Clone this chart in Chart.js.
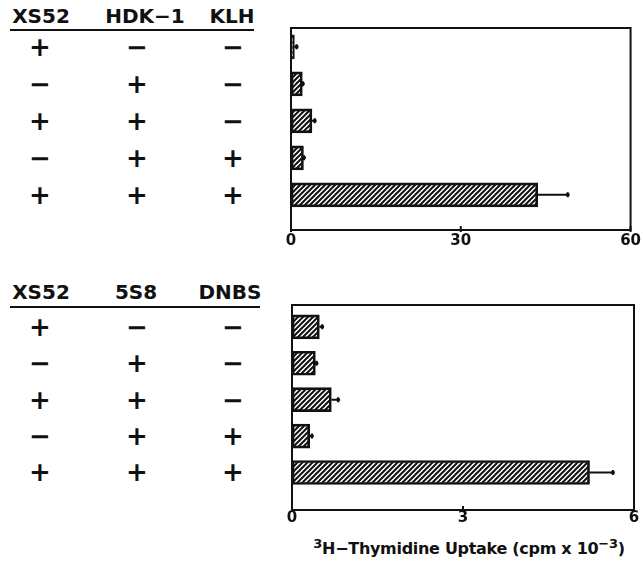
<!DOCTYPE html>
<html>
<head>
<meta charset="utf-8">
<script src="https://cdn.jsdelivr.net/npm/chart.js@4.4.1/dist/chart.umd.min.js"></script>
<style>
  body { margin: 0; background: #fff; }
  #page { position: relative; width: 643px; height: 563px; overflow: hidden;
          font-family: "DejaVu Sans", sans-serif; font-weight: bold; color: #111; }
  canvas { position: absolute; }
  .c { position: absolute; transform: translate(-50%, -50%); line-height: 1; white-space: nowrap; }
  .hdr { font-size: 20px; }
  .sym { font-size: 26px; }
  .rule { position: absolute; height: 2px; background: #111; }
  #xtitle { font-size: 16px; letter-spacing: -0.3px; }
  #xtitle sup { font-size: 13px; vertical-align: 6px; }
</style>
</head>
<body>
<div id="page">
  <canvas id="chartA" width="373" height="245" style="left:270px;top:20px"></canvas>
  <canvas id="chartB" width="373" height="245" style="left:270px;top:290px"></canvas>
  <div class="rule" style="left:10px;top:29px;width:244px"></div>
  <div class="rule" style="left:10px;top:306px;width:250px"></div>
  <div class="c" id="xtitle" style="left:469px;top:547px"><sup>3</sup>H−Thymidine Uptake (cpm x 10<sup>−3</sup>)</div>
</div>
<script>
// Panel A: XS52 / HDK-1 / KLH
const headersA = ['XS52', 'HDK−1', 'KLH'];
const rowsA = [
  ['+', '−', '−'],
  ['−', '+', '−'],
  ['+', '+', '−'],
  ['−', '+', '+'],
  ['+', '+', '+']
];
const valuesA = [0.6, 2.0, 3.7, 2.2, 43.6];
const errorsA = [0.4, 0.1, 0.5, 0.1, 5.3];
const ticksA = [0, 30, 60];

// Panel B: XS52 / 5S8 / DNBS
const headersB = ['XS52', '5S8', 'DNBS'];
const rowsB = [
  ['+', '−', '−'],
  ['−', '+', '−'],
  ['+', '+', '−'],
  ['−', '+', '+'],
  ['+', '+', '+']
];
const valuesB = [0.48, 0.41, 0.69, 0.31, 5.22];
const errorsB = [0.05, 0.02, 0.12, 0.04, 0.41];
const ticksB = [0, 3, 6];

const INK = '#111';
const FONT = '"DejaVu Sans", sans-serif';

const hatch = (() => {
  const s = 5;
  const c = document.createElement('canvas');
  c.width = c.height = s;
  const g = c.getContext('2d');
  g.strokeStyle = INK;
  g.lineWidth = 2;
  g.beginPath();
  g.moveTo(0, s); g.lineTo(s, 0);
  g.moveTo(-1, 1); g.lineTo(1, -1);
  g.moveTo(s - 1, s + 1); g.lineTo(s + 1, s - 1);
  g.stroke();
  return g.createPattern(c, 'repeat');
})();

// error bars drawn from the data through the chart scales
const errorBars = {
  id: 'errorBars',
  afterDatasetsDraw(chart, args, opts) {
    const { ctx, scales: { x, y } } = chart;
    ctx.save();
    ctx.strokeStyle = INK;
    ctx.fillStyle = INK;
    ctx.lineWidth = 2;
    opts.values.forEach((v, i) => {
      const py = y.getPixelForValue(i + 1);
      const x0 = x.getPixelForValue(v);
      const x1 = x.getPixelForValue(v + opts.errors[i]);
      ctx.beginPath();
      ctx.moveTo(x0, py); ctx.lineTo(x1, py);
      ctx.moveTo(x1, py - 2.5); ctx.lineTo(x1, py + 2.5);
      ctx.stroke();
      ctx.beginPath();
      ctx.arc(x1, py, 2, 0, Math.PI * 2);
      ctx.fill();
    });
    ctx.restore();
  }
};

// frame round the plot plus the small tick marks
const frame = {
  id: 'frame',
  afterDraw(chart) {
    const { ctx, chartArea: a, scales: { x } } = chart;
    ctx.save();
    ctx.strokeStyle = INK;
    ctx.lineWidth = 2;
    ctx.strokeRect(a.left, a.top, a.right - a.left, a.bottom - a.top);
    x.ticks.forEach((t, i) => {
      const px = x.getPixelForTick(i);
      ctx.beginPath();
      ctx.moveTo(px, a.bottom - 4); ctx.lineTo(px, a.bottom + 2);
      ctx.stroke();
    });
    ctx.restore();
  }
};

const makeChart = (id, values, errors, ticks, yMin, yMax, padding, labelPad) => {
  return new Chart(document.getElementById(id), {
    type: 'bar',
    data: {
      datasets: [{
        data: values.map((v, i) => ({ x: v, y: i + 1 })),
        backgroundColor: hatch,
        borderColor: INK,
        borderWidth: 2,
        borderSkipped: false,
        barThickness: 24
      }]
    },
    options: {
      indexAxis: 'y',
      responsive: false,
      animation: false,
      layout: { padding },
      plugins: {
        legend: { display: false },
        tooltip: { enabled: false },
        errorBars: { values, errors }
      },
      scales: {
        x: {
          type: 'linear',
          min: ticks[0],
          max: ticks[ticks.length - 1],
          offset: false,
          afterBuildTicks: (scale) => { scale.ticks = ticks.map(v => ({ value: v })); },
          afterFit: (scale) => { scale.height = 22; },
          grid: { display: false, drawTicks: false },
          border: { display: false },
          ticks: { color: INK, padding: labelPad, maxRotation: 0,
                   font: { family: FONT, size: 15, weight: 'bold' } }
        },
        y: {
          type: 'linear',
          reverse: true,
          offset: false,
          min: yMin,
          max: yMax,
          display: false,
          grid: { offset: false }
        }
      }
    },
    plugins: [errorBars, frame]
  });
};

const chartA = makeChart('chartA', valuesA, errorsA, ticksA, 0.49, 5.95,
  { left: 21, right: 10, top: 8, bottom: 13 }, 2);
const chartB = makeChart('chartB', valuesB, errorsB, ticksB, 0.4, 6.03,
  { left: 22, right: 9, top: 15, bottom: 3 }, -1);

// the +/- table beside each panel, rows aligned to the bars
const colX = [40, 137, 233];
const page = document.getElementById('page');
const put = (cls, text, x, y) => {
  const d = document.createElement('div');
  d.className = 'c ' + cls;
  d.textContent = text;
  d.style.left = x + 'px';
  d.style.top = y + 'px';
  page.appendChild(d);
};

const drawTable = (chart, canvasTop, headers, headerX, headerY, rows) => {
  headers.forEach((h, i) => put('hdr', h, headerX[i], headerY));
  rows.forEach((r, i) => {
    const py = canvasTop + chart.scales.y.getPixelForValue(i + 1);
    r.forEach((s, j) => put('sym', s, colX[j], py));
  });
};

drawTable(chartA, 20, headersA, [41, 145, 232], 16, rowsA);
drawTable(chartB, 290, headersB, [41, 136, 230], 292, rowsB);
</script>
</body>
</html>
